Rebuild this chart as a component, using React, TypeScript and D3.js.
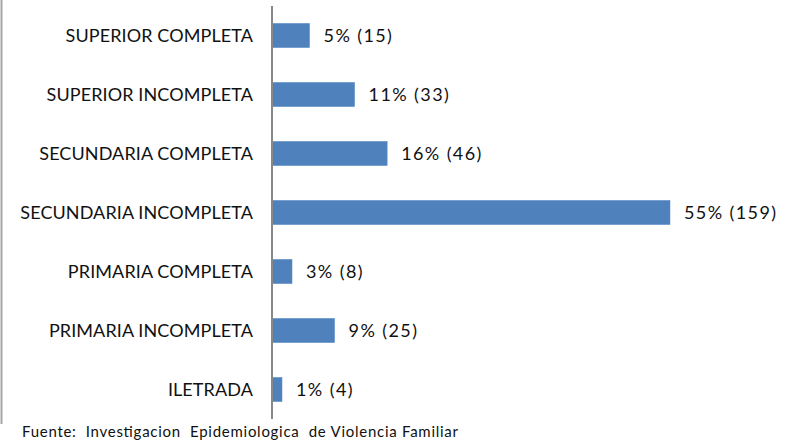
import React, { useRef, useEffect } from "react"
import * as d3 from "d3"

const categories = [
  "SUPERIOR COMPLETA",
  "SUPERIOR INCOMPLETA",
  "SECUNDARIA COMPLETA",
  "SECUNDARIA INCOMPLETA",
  "PRIMARIA COMPLETA",
  "PRIMARIA INCOMPLETA",
  "ILETRADA",
]
const counts = [15, 33, 46, 159, 8, 25, 4]
const percents = ["5%", "11%", "16%", "55%", "3%", "9%", "1%"]
const source = "Fuente:  Investigacion  Epidemiologica  de Violencia Familiar"

const App = () => {
  const element = useRef<SVGSVGElement>(null)

  useEffect(() => {
    document.body.style.margin = "0"
    const axisX = 272

    const svg = d3.select(element.current)
    svg.selectAll("*").remove()

    const font = "Lato, 'Open Sans', sans-serif"

    // frame line on the left
    svg.append("line")
      .attr("x1", 1.5).attr("x2", 1.5)
      .attr("y1", 0).attr("y2", 424)
      .attr("stroke", "#a6a6a6")
      .attr("stroke-width", 2)

    const y = d3.scaleBand()
      .domain(categories)
      .range([6, 419])
      .paddingInner(0.59)
      .paddingOuter(0.295)

    const x = d3.scaleLinear()
      .domain([0, 159])
      .range([axisX, axisX + 398])

    svg.selectAll(".bar")
      .data(counts)
      .enter()
      .append("rect")
      .attr("x", axisX)
      .attr("y", (d, i) => y(categories[i])!)
      .attr("width", d => x(d) - axisX)
      .attr("height", y.bandwidth())
      .attr("fill", "#4f81bd")
      .attr("stroke", "#5b8cc6")
      .attr("stroke-width", 0.5)

    svg.append("line")
      .attr("x1", axisX).attr("x2", axisX)
      .attr("y1", 6).attr("y2", 419)
      .attr("stroke", "#888888")
      .attr("stroke-width", 2)

    svg.selectAll(".cat")
      .data(categories)
      .enter()
      .append("text")
      .attr("x", 253)
      .attr("y", d => y(d)! + y.bandwidth() / 2)
      .attr("dy", "0.36em")
      .attr("text-anchor", "end")
      .attr("font-family", font)
      .attr("font-size", 18)
      .attr("letter-spacing", 0.1)
      .attr("fill", "#111")
      .text(d => d)

    svg.selectAll(".val")
      .data(counts)
      .enter()
      .append("text")
      .attr("x", d => x(d) + 14)
      .attr("y", (d, i) => y(categories[i])! + y.bandwidth() / 2)
      .attr("dy", "0.36em")
      .attr("font-family", font)
      .attr("font-size", 18)
      .attr("letter-spacing", 1.4)
      .attr("fill", "#111")
      .text((d, i) => `${percents[i]} (${d})`)

    svg.append("text")
      .attr("x", 22)
      .attr("y", 437)
      .attr("font-family", font)
      .attr("font-size", 15)
      .attr("fill", "#111")
      .attr("textLength", 436)
      .attr("lengthAdjust", "spacing")
      .style("white-space", "pre")
      .text(source)
  }, [])

  return <svg ref={element} width={791} height={442} style={{ display: "block", background: "#fff" }}></svg>
}

export default App
